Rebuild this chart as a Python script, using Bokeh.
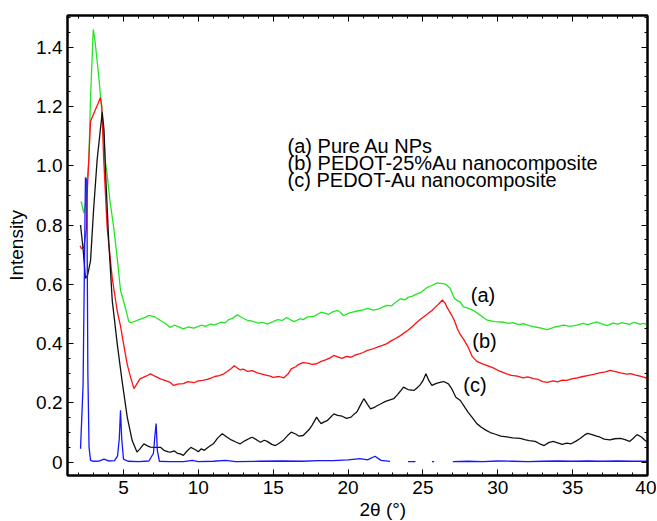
from bokeh.plotting import figure
from bokeh.models import LinearAxis, FixedTicker, Range1d, CustomLabelingPolicy, Title
from bokeh.core.properties import value
from bokeh.embed import file_html
from bokeh.resources import INLINE

NaN = float("nan")

# ---- data ----
a_x = [2.17, 2.35, 2.46, 2.57, 2.68, 2.8, 2.98, 3.1, 3.35, 3.58, 3.8, 3.91, 4.1, 4.35, 4.6, 4.8, 5.13, 5.35,
       5.47, 5.9, 6.3, 6.7, 7.1,
       7.47, 7.8, 8.1, 8.4, 8.6, 9.0, 9.3, 9.7, 10.0, 10.2, 10.5, 10.8, 11.1, 11.5, 11.8, 12.0, 12.3, 12.6,
       12.9, 13.3, 13.6, 14.0, 14.3, 14.6, 15.0, 15.3, 15.6, 15.9, 16.2, 16.4, 16.8, 17.0, 17.3, 17.7, 18.0,
       18.2, 18.5, 18.7, 19.0, 19.3, 19.5, 19.7, 20.0, 20.3, 20.6, 21.0, 21.3, 21.7, 22.0, 22.3, 22.6, 22.9,
       23.1, 23.5, 23.8, 24.0, 24.3, 24.6, 24.9, 25.3, 25.6, 25.95, 26.2, 26.5, 26.8, 27.1, 27.3, 27.5, 27.7,
       28.0, 28.4, 28.8, 29.3, 29.8, 30.4, 30.7, 31.0, 31.4, 31.7, 32.1, 32.5, 32.9, 33.3, 33.6, 33.8, 34.1,
       34.4, 34.8, 35.3, 35.7, 36.0, 36.3, 36.6, 37.0, 37.3, 37.7, 38.0, 38.3, 38.5, 38.8, 39.1, 39.5, 39.8, 40.0]
a_y = [0.88, 0.84, 0.87, 0.95, 1.01, 1.23, 1.46, 1.42, 1.30, 1.17, 1.01, 0.97, 0.88, 0.79, 0.68, 0.58, 0.52, 0.475,
       0.47, 0.478, 0.485, 0.495, 0.49,
       0.478, 0.468, 0.455, 0.462, 0.458, 0.45, 0.456, 0.452, 0.458, 0.462, 0.458, 0.466, 0.463, 0.472, 0.47, 0.48, 0.486, 0.497,
       0.488, 0.478, 0.476, 0.469, 0.472, 0.466, 0.474, 0.481, 0.478, 0.488, 0.479, 0.474, 0.484, 0.481, 0.49, 0.492, 0.5,
       0.506, 0.502, 0.499, 0.508, 0.512, 0.505, 0.494, 0.502, 0.506, 0.51, 0.514, 0.519, 0.513, 0.516, 0.523, 0.529, 0.527,
       0.536, 0.551, 0.548, 0.556, 0.56, 0.568, 0.574, 0.59, 0.596, 0.605, 0.603, 0.601, 0.588, 0.553, 0.545, 0.54, 0.524,
       0.52, 0.511, 0.497, 0.479, 0.474, 0.472, 0.468, 0.471, 0.464, 0.467, 0.461, 0.456, 0.452, 0.447, 0.452, 0.456, 0.459,
       0.462, 0.458, 0.462, 0.468, 0.464, 0.468, 0.473, 0.466, 0.461, 0.469, 0.466, 0.471, 0.468, 0.465, 0.472, 0.466, 0.468, 0.461]

b_x = [2.1, 2.2, 2.35, 2.53, 2.57, 2.68, 2.8, 3.13, 3.3, 3.46, 3.55, 3.68, 3.91, 4.25, 4.58, 4.8, 5.0, 5.25, 5.47,
       5.7, 6.1, 6.5, 6.8, 7.1,
       7.47, 7.8, 8.1, 8.36, 8.6, 9.0, 9.3, 9.7, 10.0, 10.3, 10.6, 10.8, 11.1, 11.4, 11.7, 11.9, 12.2, 12.4,
       12.6, 12.8, 13.0, 13.3, 13.6, 13.9, 14.2, 14.5, 14.8, 15.0, 15.4, 15.7, 16.0, 16.2, 16.5, 16.7, 17.0,
       17.3, 17.6, 17.9, 18.2, 18.5, 18.8, 19.05, 19.3, 19.6, 19.9, 20.2, 20.5, 20.8, 21.0, 21.3, 21.6, 22.0,
       22.3, 22.6, 22.9, 23.2, 23.5, 23.8, 24.0, 24.3, 24.6, 24.9, 25.3, 25.6, 25.95, 26.1, 26.3, 26.5, 26.6,
       26.9, 27.1, 27.3, 27.5, 27.7, 28.0, 28.3, 28.6, 28.9, 29.3, 29.7, 30.0, 30.3, 30.6, 30.9, 31.3, 31.7,
       32.0, 32.4, 32.7, 33.0, 33.3, 33.7, 34.0, 34.3, 34.6, 35.0, 35.3, 35.7, 36.0, 36.4, 36.8, 37.2, 37.5,
       37.8, 38.2, 38.6, 38.9, 39.2, 39.5, 39.8, 40.0]
b_y = [0.73, 0.72, 0.725, 0.79, 0.9, 1.02, 1.15, 1.19, 1.21, 1.23, 1.2, 1.02, 0.79, 0.62, 0.51, 0.46, 0.40, 0.33, 0.287,
       0.248, 0.281, 0.29, 0.298, 0.29,
       0.281, 0.275, 0.27, 0.259, 0.263, 0.265, 0.272, 0.268, 0.274, 0.276, 0.279, 0.283, 0.289, 0.292, 0.298, 0.305, 0.316, 0.325,
       0.318, 0.311, 0.314, 0.306, 0.309, 0.302, 0.298, 0.294, 0.29, 0.286, 0.289, 0.284, 0.298, 0.315, 0.322, 0.33, 0.336,
       0.334, 0.33, 0.332, 0.34, 0.345, 0.352, 0.36, 0.355, 0.35, 0.357, 0.354, 0.362, 0.366, 0.37, 0.377, 0.381, 0.389,
       0.394, 0.4, 0.41, 0.418, 0.427, 0.438, 0.445, 0.458, 0.472, 0.485, 0.5, 0.512, 0.529, 0.536, 0.547, 0.535, 0.523,
       0.498, 0.478, 0.45, 0.43, 0.416, 0.39, 0.356, 0.34, 0.333, 0.326, 0.318, 0.31, 0.304, 0.298, 0.293, 0.29, 0.284,
       0.288, 0.282, 0.279, 0.272, 0.269, 0.274, 0.271, 0.277, 0.276, 0.282, 0.284, 0.289, 0.292, 0.296, 0.301, 0.305, 0.31,
       0.306, 0.301, 0.297, 0.299, 0.294, 0.29, 0.286, 0.281]

c_x = [2.13, 2.3, 2.46, 2.6, 2.8, 3.0, 3.24, 3.45, 3.58, 3.7, 3.8, 4.02, 4.25, 4.58, 4.9, 5.25, 5.58, 5.9, 6.1,
       6.36, 6.6, 6.8, 7.1,
       7.47, 7.7, 8.0, 8.14, 8.4, 8.6, 8.8, 9.0, 9.2, 9.5, 9.8, 10.0, 10.2, 10.4, 10.7, 11.0, 11.3, 11.6, 11.9,
       12.2, 12.5, 12.8, 13.1, 13.4, 13.6, 13.9, 14.15, 14.4, 14.6, 14.9, 15.15, 15.4, 15.7, 16.0, 16.2, 16.5,
       16.7, 17.0, 17.2, 17.4, 17.6, 17.9, 18.05, 18.2, 18.4, 18.6, 18.8, 19.05, 19.3, 19.6, 19.9, 20.2, 20.4,
       20.6, 20.8, 21.05, 21.3, 21.5, 21.8, 22.0, 22.2, 22.5, 22.8, 23.05, 23.3, 23.5, 23.7, 24.0, 24.4, 24.6,
       24.8, 25.0, 25.2, 25.4, 25.6, 25.9, 26.2, 26.4, 26.7, 26.9, 27.2, 27.5, 27.8, 28.0, 28.3, 28.6, 28.9,
       29.2, 29.5, 29.8, 30.2, 30.6, 31.0, 31.5, 31.8, 32.1, 32.5, 32.8, 33.1, 33.4, 33.7, 34.0, 34.3, 34.6,
       34.9, 35.2, 35.5, 35.8, 36.0, 36.3, 36.6, 36.8, 37.1, 37.5, 37.8, 38.2, 38.5, 38.8, 39.0, 39.3, 39.6,
       39.8, 40.0]
c_y = [0.80, 0.72, 0.62, 0.63, 0.68, 0.85, 1.02, 1.12, 1.18, 1.12, 0.98, 0.74, 0.545, 0.40, 0.276, 0.152, 0.073, 0.034, 0.045,
       0.062, 0.055, 0.051, 0.05,
       0.05, 0.04, 0.035, 0.034, 0.038, 0.03, 0.028, 0.023, 0.035, 0.05, 0.042, 0.035, 0.045, 0.04, 0.052, 0.062, 0.082, 0.096, 0.085,
       0.075, 0.068, 0.062, 0.072, 0.08, 0.084, 0.075, 0.067, 0.074, 0.07, 0.06, 0.056, 0.064, 0.075, 0.092, 0.101, 0.095,
       0.088, 0.09, 0.1, 0.11, 0.125, 0.152, 0.14, 0.13, 0.136, 0.14, 0.15, 0.163, 0.158, 0.155, 0.148, 0.152, 0.162,
       0.17, 0.19, 0.214, 0.195, 0.18, 0.186, 0.192, 0.197, 0.205, 0.21, 0.214, 0.228, 0.24, 0.253, 0.245, 0.242, 0.25,
       0.26, 0.275, 0.298, 0.275, 0.259, 0.266, 0.27, 0.272, 0.264, 0.25, 0.219, 0.208, 0.185, 0.17, 0.15, 0.13, 0.118,
       0.108, 0.1, 0.095, 0.088, 0.085, 0.082, 0.08, 0.076, 0.073, 0.07, 0.062, 0.056, 0.066, 0.07, 0.065, 0.06, 0.064,
       0.062, 0.07, 0.08, 0.092, 0.097, 0.093, 0.088, 0.085, 0.078, 0.075, 0.079, 0.08, 0.076, 0.07, 0.078, 0.093, 0.085,
       0.075, 0.068]

au_x = [2.13, 2.3, 2.4, 2.46, 2.55, 2.62, 2.7, 2.8, 3.0, 3.4, 3.7, 4.0, 4.4, 4.6, 4.72, 4.8, 4.88, 5.0, 5.3, 6.0,
        6.7, 7.0, 7.1, 7.18, 7.26, 7.4, 8.0, 9.0, 9.6, 10.0, 11.0, 11.8, 12.5, 14.0, 15.5, 17.0, 18.0, 19.0, 20.0,
        20.8, 21.3, 21.8, 22.2, 22.8, 23.0, 24.0, 24.5, 24.6, 25.6, 25.75, 25.8, 27.0, 28.0, 29.0, 30.0, 31.0, 32.0,
        33.0, 34.0, 35.0, 36.0, 37.0, 38.0, 39.0, 40.0]
au_y = [0.045, 0.26, 0.70, 0.96, 0.95, 0.30, 0.05, 0.006, 0.003, 0.004, 0.01, 0.004, 0.005, 0.02, 0.08, 0.175, 0.08, 0.01, 0.003, 0.002,
        0.004, 0.03, 0.09, 0.13, 0.04, 0.003, 0.002, 0.002, 0.006, 0.002, 0.003, 0.006, 0.002, 0.003, 0.004, 0.003, 0.005, 0.005, 0.008,
        0.012, 0.008, 0.02, 0.006, 0.003, NaN, 0.002, 0.002, NaN, 0.002, 0.002, NaN, 0.002, 0.003, 0.002, 0.004, 0.003, 0.002,
        0.003, 0.004, 0.003, 0.004, 0.003, 0.004, 0.003, 0.003]

series_names = ["(a) Pure Au NPs", "(b) PEDOT-25%Au nanocomposite", "(c) PEDOT-Au nanocomposite"]
curve_tags = ["(a)", "(b)", "(c)"]
x_ticks = [5, 10, 15, 20, 25, 30, 35, 40]
y_ticks = [0, 0.2, 0.4, 0.6, 0.8, 1.0, 1.2, 1.4]
y_tick_labels = ["0", "0.2", "0.4", "0.6", "0.8", "1.0", "1.2", "1.4"]
x_title = "2θ (°)"
y_title = "Intensity"

FONT = "Liberation Sans"
FS = "19px"
FS_TXT = "20px"

W, H = 656, 521
p = figure(width=W, height=H, output_backend="svg", toolbar_location=None,
           x_range=Range1d(1.26, 40.0), y_range=Range1d(-0.045, 1.507),
           min_border_left=67, min_border_right=W - 647, min_border_top=15, min_border_bottom=H - 475)
p.background_fill_color = "white"
p.border_fill_color = "white"
p.grid.visible = False
p.outline_line_color = "black"
p.outline_line_width = 2

p.line(a_x, a_y, line_color="#22e622", line_width=1.3)
p.line(b_x, b_y, line_color="#ff1010", line_width=1.3)
p.line(c_x, c_y, line_color="#111111", line_width=1.3)
p.line(au_x, au_y, line_color="#1515ff", line_width=1.3)

hide_labels = CustomLabelingPolicy(code="for (const i of [...indices]) { indices.unset(i) }; return indices")

def style_axis(ax, show_labels):
    ax.axis_line_color = "black"
    ax.axis_line_width = 2
    ax.major_tick_in = 6
    ax.major_tick_out = 0
    ax.minor_tick_in = 3
    ax.minor_tick_out = 0
    ax.major_tick_line_color = "black"
    ax.minor_tick_line_color = "black"
    ax.major_label_text_font = FONT
    ax.major_label_text_color = "black"
    if show_labels:
        ax.major_label_text_font_size = FS
    else:
        ax.major_label_text_font_size = "1px"
        ax.major_label_policy = hide_labels
        ax.major_label_standoff = 0

x_minor = [v * 1.0 for v in range(2, 41)]
y_minor = [round(i * 0.05, 3) for i in range(0, 31)]

xa = p.xaxis[0]
xa.ticker = FixedTicker(ticks=x_ticks, minor_ticks=x_minor)
style_axis(xa, True)
xa.major_label_standoff = 5

ya = p.yaxis[0]
ya.ticker = FixedTicker(ticks=y_ticks, minor_ticks=y_minor)
style_axis(ya, True)
ya.major_label_overrides = {t: l for t, l in zip(y_ticks, y_tick_labels)}
ya.major_label_standoff = 5
ya.axis_label = y_title
ya.axis_label_text_font = FONT
ya.axis_label_text_font_style = "normal"
ya.axis_label_text_font_size = FS
ya.axis_label_text_color = "black"
ya.axis_label_standoff = 6

top = LinearAxis(ticker=FixedTicker(ticks=x_ticks, minor_ticks=x_minor))
style_axis(top, False)
p.add_layout(top, "above")
right = LinearAxis(ticker=FixedTicker(ticks=y_ticks, minor_ticks=y_minor))
style_axis(right, False)
p.add_layout(right, "right")

# x-axis title, shifted right of centre as in the original
p.add_layout(Title(text=x_title, align="left", offset=292, standoff=0,
                   text_font=FONT, text_font_size=FS, text_font_style="normal",
                   text_color="black"), "below")

# legend block (plain text lines)
leg_x = 15.96
leg_y = [1.067, 1.009, 0.952]
p.text(x=[leg_x] * 3, y=leg_y, text=series_names, text_font=value(FONT), text_font_size=FS_TXT,
       text_align="left", text_baseline="middle", text_color="black")

# curve tags
p.text(x=[28.2, 28.3, 27.7], y=[0.565, 0.41, 0.26], text=curve_tags, text_font=value(FONT),
       text_font_size=FS_TXT, text_align="left", text_baseline="middle", text_color="black")

open("out.html", "w").write(file_html(p, INLINE))
